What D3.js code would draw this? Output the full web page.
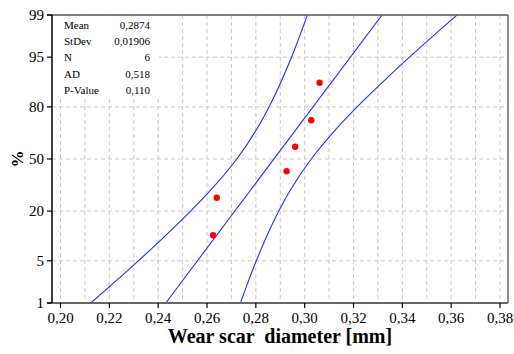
<!DOCTYPE html>
<html><head><meta charset="utf-8">
<script src="https://cdn.jsdelivr.net/npm/d3@7"></script>
<style>
html,body{margin:0;padding:0;background:#fff;}
svg{display:block;}
text{font-family:"Liberation Serif","Times New Roman",serif;fill:#000;}
</style></head>
<body>
<svg id="c" width="514" height="354"></svg>
<script>
// ---- data ----
const sampleX = [0.2625, 0.2640, 0.2926, 0.2961, 0.3027, 0.3061];      // wear scar diameters, sorted
const samplePct = [10.9, 26.6, 42.2, 57.8, 73.4, 89.1];                  // plotted percent (median ranks)
const bandPct   = [1, 2, 5, 10, 20, 30, 50, 70, 80, 90, 95, 98, 99];
const bandLower = [0.2124, 0.2203, 0.2319, 0.2418, 0.2533, 0.2610, 0.2722, 0.2810, 0.2854, 0.2907, 0.2946, 0.2986, 0.3011];
const bandUpper = [0.2737, 0.2762, 0.2802, 0.2841, 0.2894, 0.2938, 0.3027, 0.3138, 0.3215, 0.3330, 0.3429, 0.3545, 0.3624];
const fitPct = [1, 99];
const fitX   = [0.2431, 0.3317];
const yTicks = [1, 5, 20, 50, 80, 95, 99];
const xTicks = [0.20, 0.22, 0.24, 0.26, 0.28, 0.30, 0.32, 0.34, 0.36, 0.38];
const xGrid  = [0.20,0.21,0.22,0.23,0.24,0.25,0.26,0.27,0.28,0.29,0.30,0.31,0.32,0.33,0.34,0.35,0.36,0.37,0.38];
const statLabels = ["Mean", "StDev", "N", "AD", "P-Value"];
const statValues = ["0,2874", "0,01906", "6", "0,518", "0,110"];

// ---- layout ----
const L = 52, R = 508, T = 15, B = 303;
const svg = d3.select("#c");

// probit (inverse normal CDF) via rational approximation
function probit(p){
  const a=[-3.969683028665376e+01,2.209460984245205e+02,-2.759285104469687e+02,1.383577518672690e+02,-3.066479806614716e+01,2.506628277459239e+00];
  const b=[-5.447609879822406e+01,1.615858368580409e+02,-1.556989798598866e+02,6.680131188771972e+01,-1.328068155288572e+01];
  const c=[-7.784894002430293e-03,-3.223964580411365e-01,-2.400758277161838e+00,-2.549671010190774e+00,4.374664141464968e+00,2.938163982698783e+00];
  const d=[7.784695709041462e-03,3.224671290700398e-01,2.445134137142996e+00,3.754408661907416e+00];
  const pl=0.02425, ph=1-pl; let q,r;
  if(p<pl){q=Math.sqrt(-2*Math.log(p));return (((((c[0]*q+c[1])*q+c[2])*q+c[3])*q+c[4])*q+c[5])/((((d[0]*q+d[1])*q+d[2])*q+d[3])*q+1);}
  if(p<=ph){q=p-0.5;r=q*q;return (((((a[0]*r+a[1])*r+a[2])*r+a[3])*r+a[4])*r+a[5])*q/(((((b[0]*r+b[1])*r+b[2])*r+b[3])*r+b[4])*r+1);}
  q=Math.sqrt(-2*Math.log(1-p));return -(((((c[0]*q+c[1])*q+c[2])*q+c[3])*q+c[4])*q+c[5])/((((d[0]*q+d[1])*q+d[2])*q+d[3])*q+1);
}
const zScale = d3.scaleLinear().domain([probit(0.01), probit(0.99)]).range([B, T]);
const y = pct => zScale(probit(pct/100));
const x = d3.scaleLinear().domain([0.20, 0.38]).range([60.5, 500]);

const fmt = v => d3.format(".2f")(v).replace(".", ",");

// grid
const g = svg.append("g");
g.selectAll("line.vg").data(xGrid).join("line")
  .attr("x1", d => x(d)).attr("x2", d => x(d)).attr("y1", T).attr("y2", B)
  .attr("stroke", "#c8c8c8").attr("stroke-width", 1).attr("stroke-dasharray", "4,3");
g.selectAll("line.hg").data(yTicks.filter(v => v > 1 && v < 99)).join("line")
  .attr("x1", L).attr("x2", R).attr("y1", d => y(d)).attr("y2", d => y(d))
  .attr("stroke", "#c8c8c8").attr("stroke-width", 1).attr("stroke-dasharray", "4,3");

// clip for curves
svg.append("clipPath").attr("id", "pc").append("rect").attr("x", L).attr("y", T).attr("width", R - L).attr("height", B - T);
const cg = svg.append("g").attr("clip-path", "url(#pc)");

const line = d3.line().x(d => x(d[0])).y(d => y(d[1])).curve(d3.curveMonotoneY);
[bandLower, bandUpper].forEach(arr => {
  cg.append("path").datum(arr.map((v, i) => [v, bandPct[i]]))
    .attr("d", line).attr("fill", "none").attr("stroke", "#2a2aff").attr("stroke-width", 1.1);
});
cg.append("path").datum(fitX.map((v, i) => [v, fitPct[i]]))
  .attr("d", d3.line().x(d => x(d[0])).y(d => y(d[1])))
  .attr("fill", "none").attr("stroke", "#2a2aff").attr("stroke-width", 1.1);

// stats box (white background)
svg.append("rect").attr("x", L + 1).attr("y", T + 1).attr("width", 106).attr("height", 82).attr("fill", "#fff");
const sg = svg.append("g").style("font-size", "11px");
statLabels.forEach((s, i) => {
  sg.append("text").attr("x", 64).attr("y", 29 + i * 16.2).text(s);
  sg.append("text").attr("x", 150).attr("y", 29 + i * 16.2).attr("text-anchor", "end").text(statValues[i]);
});

// points
svg.selectAll("circle.pt").data(sampleX.map((v, i) => [v, samplePct[i]])).join("circle")
  .attr("cx", d => x(d[0])).attr("cy", d => y(d[1])).attr("r", 3.2).attr("fill", "#ff0000");

// frame
svg.append("line").attr("x1", 47).attr("x2", R).attr("y1", T).attr("y2", T).attr("stroke", "#555").attr("stroke-width", 1.5);
svg.append("line").attr("x1", R).attr("x2", R).attr("y1", T).attr("y2", B).attr("stroke", "#666").attr("stroke-width", 1.5);
svg.append("line").attr("x1", 47).attr("x2", R).attr("y1", B).attr("y2", B).attr("stroke", "#666").attr("stroke-width", 2);
svg.append("line").attr("x1", L).attr("x2", L).attr("y1", T).attr("y2", B).attr("stroke", "#000").attr("stroke-width", 1.5);

// y axis
const ya = svg.append("g");
ya.selectAll("line").data(yTicks).join("line")
  .attr("x1", 47).attr("x2", L).attr("y1", d => y(d)).attr("y2", d => y(d)).attr("stroke", "#000").attr("stroke-width", 1.2);
ya.selectAll("text").data(yTicks).join("text")
  .attr("x", 44).attr("y", d => y(d) + 5).attr("text-anchor", "end").style("font-size", "15px").text(d => d);

// x axis
const xa = svg.append("g");
xa.selectAll("line").data(xTicks).join("line")
  .attr("x1", d => x(d)).attr("x2", d => x(d)).attr("y1", B).attr("y2", B + 5).attr("stroke", "#000").attr("stroke-width", 1.2);
xa.selectAll("text").data(xTicks).join("text")
  .attr("x", d => x(d)).attr("y", 323).attr("text-anchor", "middle").style("font-size", "15px").text(d => fmt(d));

// titles
svg.append("text").attr("x", 280).attr("y", 343).attr("text-anchor", "middle")
  .attr("xml:space", "preserve").style("white-space", "pre")
  .style("font-size", "20px").style("font-weight", "bold").text("Wear scar  diameter [mm]");
svg.append("text").attr("transform", "translate(23,159) rotate(-90)").attr("text-anchor", "middle")
  .style("font-size", "17px").style("font-weight", "bold").text("%");
</script>
</body></html>
